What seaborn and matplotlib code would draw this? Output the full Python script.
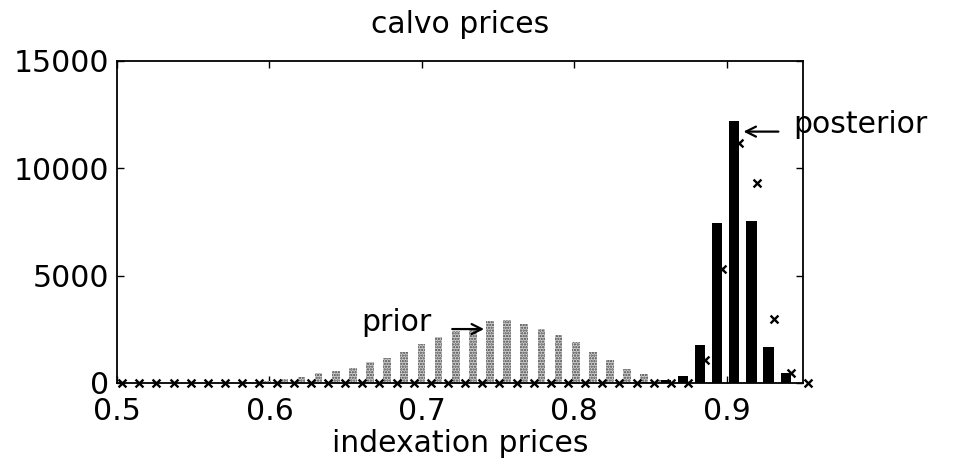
import numpy as np
import pandas as pd
import matplotlib
matplotlib.use("Agg")
import matplotlib.pyplot as plt
import seaborn as sns

# Histogram grid for the indexation parameter
bin_lo, bin_hi, n_bins = 0.5, 0.95, 40

prior_counts = [0, 0, 0, 0, 0, 0, 0, 0, 40, 100,
                180, 300, 480, 580, 720, 1000, 1170, 1450, 1830, 2150,
                2400, 2500, 2900, 2950, 2750, 2530, 2220, 1900, 1430, 1050,
                650, 420, 150, 60, 0, 0, 0, 0, 0, 0, 0]

posterior_counts = [0, 0, 0, 0, 0, 0, 0, 0, 0, 0,
                    0, 0, 0, 0, 0, 0, 0, 0, 0, 0,
                    0, 0, 0, 0, 0, 0, 0, 0, 0, 0,
                    0, 60, 120, 330, 1770, 7460, 12200, 7550, 1660, 480, 0]

posterior_fit = [0, 0, 0, 0, 0, 0, 0, 0, 0, 0,
                 0, 0, 0, 0, 0, 0, 0, 0, 0, 0,
                 0, 0, 0, 0, 0, 0, 0, 0, 0, 0,
                 0, 0, 0, 0, 1050, 5300, 11160, 9300, 3000, 450, 0]

x_ticks = [0.5, 0.6, 0.7, 0.8, 0.9]
y_ticks = [0, 5000, 10000, 15000]

sns.set_style("ticks")
plt.rcParams["font.family"] = ["DejaVu Sans"]
plt.rcParams["hatch.linewidth"] = 1.1
plt.rcParams["text.color"] = "black"
plt.rcParams["axes.labelcolor"] = "black"
plt.rcParams["xtick.color"] = "black"
plt.rcParams["ytick.color"] = "black"

FS = 21.5
step = (bin_hi - bin_lo) / n_bins
centers = np.linspace(bin_lo, bin_hi, n_bins + 1)
prior_shift = -0.25 * step
fit_shift = 0.3 * step

prior_df = pd.DataFrame({"x": centers + prior_shift, "w": prior_counts})
post_df = pd.DataFrame({"x": centers, "w": posterior_counts})
fit_df = pd.DataFrame({"x": centers + fit_shift, "y": posterior_fit})

fig = plt.figure(figsize=(9.57, 4.67), dpi=100)
ax = fig.add_axes([0.1223, 0.1799, 0.7167, 0.6901])

# prior: stippled grey bars, shifted slightly left of the grid
sns.histplot(data=prior_df, x="x", weights="w", binwidth=step,
             binrange=(bin_lo + prior_shift - step / 2,
                       bin_hi + prior_shift + step / 2),
             shrink=0.45, ax=ax, stat="count",
             color="#cfcfcf", edgecolor="#454545", linewidth=0,
             hatch="......", alpha=1)

# posterior: solid black bars
sns.histplot(data=post_df, x="x", weights="w", binwidth=step,
             binrange=(bin_lo - step / 2, bin_hi + step / 2),
             shrink=0.6, ax=ax, stat="count",
             color="black", edgecolor="black", linewidth=0, alpha=1)

# fitted posterior density shown as crosses
sns.scatterplot(data=fit_df, x="x", y="y", marker="x",
                color="black", s=32, linewidth=1.7, ax=ax, clip_on=False,
                zorder=5)

ax.set_xlim(bin_lo, bin_hi)
ax.set_ylim(0, 15000)
ax.set_xticks(x_ticks)
ax.set_xticklabels([f"{t:g}" for t in x_ticks])
ax.set_yticks(y_ticks)
ax.set_yticklabels([str(t) for t in y_ticks])
ax.tick_params(direction="in", top=True, right=True, length=5, width=1,
               labelsize=FS, colors="black")
ax.tick_params(axis="x", pad=10)
ax.tick_params(axis="y", pad=6)
for s in ax.spines.values():
    s.set_visible(True)
    s.set_linewidth(1.3)
    s.set_color("black")

ax.set_xlabel("indexation prices", fontsize=FS, labelpad=2, color="black")
ax.set_ylabel("")
ax.set_title("calvo prices", fontsize=FS, pad=20, color="black")

# labels with arrows pointing at the two distributions
ax.text(0.6603, 2420, "prior", fontsize=FS, va="baseline", ha="left",
        color="black")
ax.annotate("", xy=(0.7408, 2510), xytext=(0.7199, 2510),
            arrowprops=dict(arrowstyle="->", lw=1.6, color="black",
                            mutation_scale=18, shrinkA=0, shrinkB=0))
ax.text(0.9437, 11633, "posterior", fontsize=FS, va="baseline", ha="left",
        clip_on=False, color="black")
ax.annotate("", xy=(0.911, 11700), xytext=(0.9339, 11700),
            arrowprops=dict(arrowstyle="->", lw=1.6, color="black",
                            mutation_scale=18, shrinkA=0, shrinkB=0),
            annotation_clip=False)

fig.savefig("out.png", dpi=100)
